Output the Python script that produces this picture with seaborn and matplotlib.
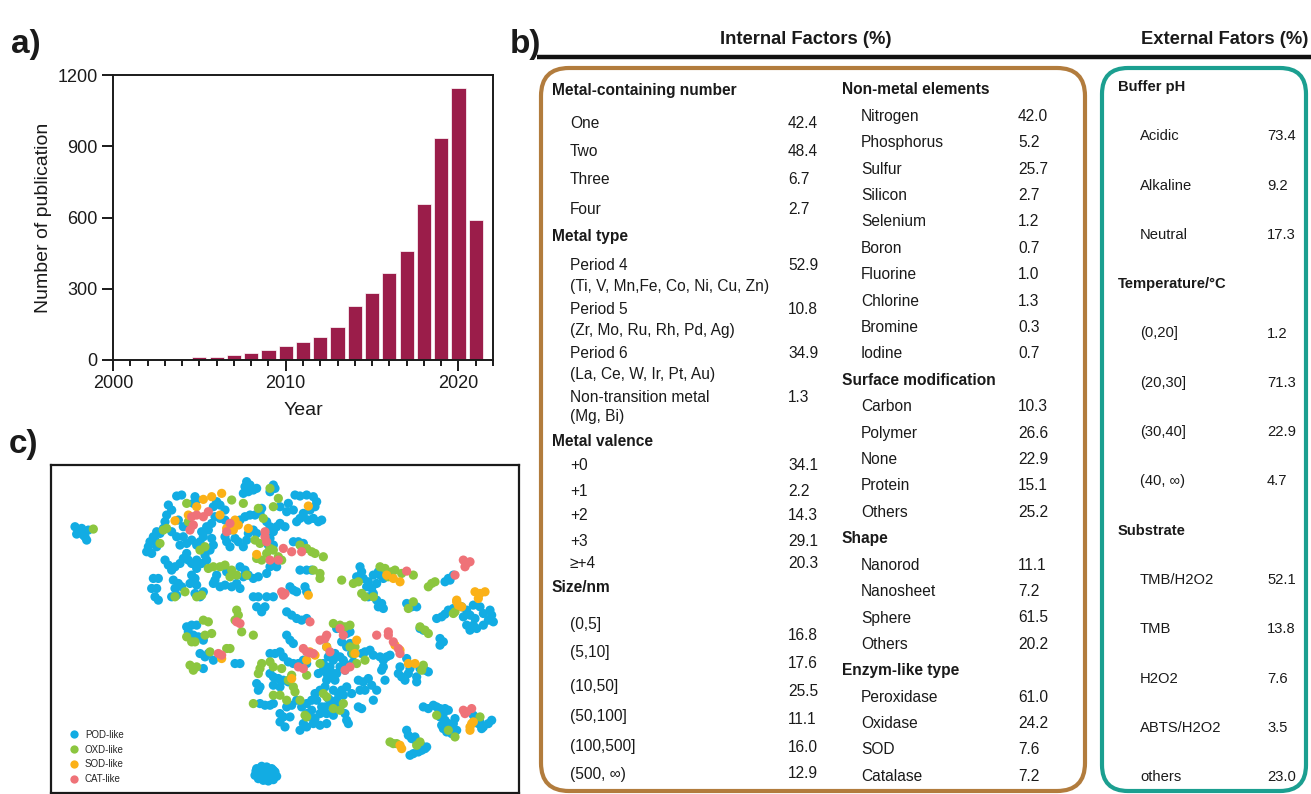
import matplotlib
matplotlib.use("Agg")
import matplotlib.pyplot as plt
import numpy as np
import pandas as pd
import seaborn as sns
from matplotlib.patches import FancyBboxPatch
from matplotlib.ticker import MultipleLocator, FormatStrFormatter

sns.set_style("ticks")
plt.rcParams["font.family"] = ["Liberation Sans", "DejaVu Sans"]

INK = "#1a1a1a"

# ---------------- a) publications per year ----------------
years = list(range(2005, 2022))
publications = [14, 14, 20, 31, 41, 59, 76, 98, 140, 229, 282, 367, 458, 658, 936, 1145, 588]

# ---------------- c) t-SNE embedding of nanozyme activities ----------------
pod_like = [
    (105, 200), (115, 210), (125, 205), (110, 222), (130, 225), (120, 215), (140, 240), (135, 230), (145, 210),
    (620, 65), (630, 75), (615, 80), (640, 90), (625, 95), (650, 85), (610, 100), (700, 75), (705, 85), (690, 95),
    (410, 108), (425, 105), (465, 110), (470, 120), (460, 130), (385, 135), (395, 150), (380, 165), (375, 185),
    (415, 180), (430, 200), (450, 205), (530, 125), (540, 135), (555, 150), (520, 140),
    (765, 105), (780, 108), (800, 105), (820, 110), (830, 125), (825, 140), (810, 150), (790, 160), (760, 150),
    (740, 155), (720, 140), (745, 130),
    (665, 145), (660, 160), (645, 165), (630, 165), (615, 170), (600, 180),
    (540, 175), (555, 180), (525, 170), (515, 190), (505, 210), (490, 230), (480, 245), (470, 255),
    (350, 215), (340, 230), (330, 245), (325, 260), (320, 275), (335, 280), (350, 260), (345, 240), (360, 220), (370, 205),
    (395, 215), (410, 230), (430, 230), (440, 250), (455, 240), (420, 255),
    (485, 215), (500, 200), (515, 235), (520, 255), (510, 270), (495, 285), (500, 300), (485, 310), (470, 325),
    (455, 345), (465, 355), (450, 370), (470, 375), (490, 395), (480, 410), (465, 400),
    (555, 230), (560, 245), (570, 260), (585, 235), (595, 245), (570, 210),
    (640, 210), (650, 220), (625, 220), (620, 240), (610, 260),
    (680, 185), (690, 200), (700, 215), (710, 200), (720, 190), (735, 200), (690, 235), (685, 255), (700, 255),
    (770, 185), (780, 175), (790, 170), (805, 180), (820, 175), (835, 185), (845, 180),
    (760, 245), (775, 245), (790, 250),
    (375, 300), (385, 315), (395, 330), (405, 320), (420, 310), (430, 295), (440, 280), (445, 300),
    (400, 360), (415, 370), (425, 380), (405, 385), (395, 410), (410, 405),
    (340, 355), (355, 355), (335, 385), (350, 385), (345, 410), (355, 420),
    (530, 345), (525, 360), (520, 370), (540, 380), (555, 375), (575, 380), (590, 370), (600, 385),
    (600, 320), (615, 330), (625, 345), (610, 350), (640, 355), (655, 350), (680, 340), (690, 320), (700, 310), (710, 320),
    (560, 335), (575, 340), (455, 310), (470, 300),
    (640, 410), (655, 410), (680, 410), (700, 410), (650, 440), (665, 455), (675, 440), (750, 380), (760, 390),
    (770, 395), (795, 380), (800, 395), (740, 455), (755, 465), (770, 475), (785, 480), (800, 475),
    (780, 330), (800, 330), (815, 330),
    (440, 500), (455, 495), (470, 495), (445, 515), (460, 525), (475, 530), (490, 540), (480, 580), (495, 590),
    (505, 580), (520, 600), (490, 625), (585, 610), (600, 610),
    (960, 320), (965, 335), (950, 350), (970, 355), (985, 365), (980, 380), (995, 385), (1010, 370), (1000, 345),
    (1015, 335), (1020, 345), (1030, 355), (985, 410), (1000, 400), (1010, 420), (1025, 430), (1030, 445), (1015, 440),
    (1100, 430), (1115, 440), (1130, 440), (1140, 505), (1150, 510), (1200, 535), (1210, 545), (1200, 555),
    (1215, 365), (1225, 355), (1240, 345), (1230, 360),
    (1190, 475), (1205, 470), (1215, 462), (1225, 450), (1240, 445), (1265, 440), (1280, 450), (1290, 465),
    (1305, 475), (1300, 495), (1290, 510), (1310, 505), (1330, 495), (1345, 480), (1355, 465), (1360, 485),
    (1350, 450), (1320, 440), (1300, 435), (1330, 460), (1270, 470), (1280, 495),
    (740, 525), (750, 540), (760, 550), (690, 580), (705, 580), (720, 575), (730, 590), (745, 605), (760, 610),
    (775, 610), (790, 600), (800, 610), (690, 640), (700, 650), (715, 655), (730, 660), (745, 665), (720, 680),
    (700, 675), (650, 670), (660, 680), (655, 690),
    (660, 730), (675, 735), (690, 735), (700, 730), (720, 760), (730, 770), (740, 740), (755, 735), (770, 720),
    (785, 740), (800, 730), (815, 720), (825, 700), (840, 690), (855, 680), (860, 660), (870, 650), (885, 660),
    (880, 640), (860, 640), (850, 630), (835, 640),
    (880, 690), (895, 700), (905, 690), (920, 680), (890, 720), (870, 720), (855, 740), (840, 760), (825, 775),
    (810, 770), (790, 790), (800, 800), (780, 810), (750, 770), (735, 800), (720, 785),
    (845, 740), (860, 760), (880, 765), (860, 790), (840, 795), (820, 790), (865, 715), (875, 730), (900, 740),
    (915, 760), (920, 780), (925, 790), (890, 745), (830, 720), (815, 750), (800, 760),
    (885, 580), (900, 590), (910, 600), (900, 620), (915, 630), (925, 615), (940, 605), (935, 580), (920, 560),
    (930, 550), (905, 545), (900, 505), (920, 520), (930, 515), (890, 505),
    (860, 560), (865, 590), (880, 600), (850, 610), (870, 620), (890, 640),
    (965, 580), (975, 575), (990, 570), (1000, 585), (1020, 590), (1030, 600), (1040, 590), (1050, 585),
    (1030, 620), (1025, 630),
    (955, 660), (970, 665), (985, 655), (995, 675), (1010, 690), (960, 690), (975, 690), (1000, 720), (955, 740),
    (965, 745), (910, 705), (935, 700),
    (1075, 640), (1085, 650), (1095, 660), (1105, 640), (1110, 625), (1080, 620), (1140, 625), (1155, 630),
    (1165, 635), (1130, 650), (1130, 665), (1100, 595), (1035, 660),
    (1150, 740), (1165, 745), (1180, 735), (1190, 740), (1200, 745), (1215, 745), (1225, 750), (1210, 760),
    (1200, 770), (1205, 795), (1210, 805), (1220, 815), (1235, 820), (1250, 810), (1240, 790), (1245, 775),
    (1225, 790), (1215, 780), (1235, 805), (1300, 765), (1310, 775), (1320, 785), (1330, 800), (1345, 790),
    (1355, 780), (1325, 805), (1315, 790),
    (1100, 810), (1105, 825), (1115, 835), (1125, 830), (1130, 845), (1140, 850), (1150, 860), (1145, 870),
    (1135, 875), (1120, 880), (1110, 885), (1155, 865), (1160, 860),
    (650, 925), (665, 918), (680, 920), (695, 925), (705, 935), (710, 948), (700, 958), (685, 962), (670, 960),
    (655, 955), (645, 945), (660, 940), (675, 940), (690, 945), (648, 932), (700, 930),
]
oxd_like = [
    (160, 207),
    (440, 130), (575, 120), (610, 130), (655, 145), (690, 85), (715, 115), (700, 140),
    (370, 210), (360, 250), (480, 270), (495, 260),
    (505, 325), (520, 320), (540, 320), (555, 315), (575, 330), (590, 345), (570, 350), (620, 345),
    (650, 295), (665, 300), (680, 280), (690, 265), (700, 270), (715, 290), (725, 300),
    (435, 395), (470, 410), (485, 405), (405, 410),
    (780, 255), (800, 265), (815, 275), (825, 280), (850, 290),
    (820, 330), (840, 340), (840, 355),
    (645, 240), (660, 250), (670, 175), (380, 205), (445, 185),
    (590, 450), (595, 465), (585, 480), (605, 515), (640, 525),
    (490, 480), (505, 485), (515, 520), (495, 525), (440, 530), (455, 545), (465, 545), (510, 575), (570, 565),
    (560, 565), (450, 615), (460, 630), (470, 620),
    (1020, 320), (1035, 325), (1055, 335), (1065, 330), (1085, 340), (1120, 345), (1045, 350), (905, 360),
    (940, 370), (955, 365), (965, 400), (975, 410), (1000, 410), (1120, 425), (1105, 445), (1140, 500),
    (1165, 520), (1165, 380), (1175, 370), (1185, 365), (1240, 460), (1245, 455),
    (690, 605), (665, 610), (660, 625), (655, 640), (700, 620), (725, 625), (755, 645), (745, 660), (760, 680),
    (765, 695), (720, 705), (700, 705), (640, 730), (740, 720), (780, 720), (800, 645), (840, 610), (880, 490),
    (900, 495), (915, 500), (930, 495), (930, 560), (850, 700), (860, 710), (880, 745), (900, 750), (910, 730),
    (800, 770), (795, 765), (950, 610), (975, 600), (1150, 615), (1145, 630), (945, 560), (1155, 510), (940, 580),
    (1190, 765), (1245, 830), (1320, 770), (1225, 810),
    (1050, 845), (1060, 850), (1070, 850), (1130, 855), (1140, 845),
]
sod_like = [
    (490, 118), (515, 110), (545, 100), (405, 182), (445, 165), (470, 140), (585, 180), (595, 195), (580, 210),
    (560, 205), (625, 205), (805, 138), (650, 283), (540, 165),
    (805, 405), (545, 595),
    (1060, 355), (1080, 365), (1040, 345), (1250, 420), (1255, 435), (1265, 440), (1305, 395), (1320, 400),
    (1335, 395), (1315, 415), (1250, 425),
    (800, 600), (825, 585), (810, 575), (950, 540), (945, 580), (1065, 555), (1080, 570), (1105, 610),
    (1125, 610), (755, 655), (860, 560),
    (1290, 800), (1295, 790), (1300, 785), (1290, 810),
    (1080, 855), (1085, 865),
]
cat_like = [
    (455, 170), (470, 165), (490, 170), (505, 155), (460, 195), (450, 210), (560, 215), (570, 190), (675, 215),
    (675, 230), (680, 245), (730, 265), (755, 275), (785, 275), (715, 300), (690, 300), (735, 400), (725, 395),
    (590, 485), (600, 490), (810, 485), (730, 405),
    (535, 580), (545, 585),
    (1270, 300), (1280, 310), (1290, 305), (1275, 320), (1100, 333), (1245, 345),
    (790, 565), (800, 575), (810, 578), (820, 580), (840, 540), (855, 535), (860, 525), (870, 575), (910, 525),
    (1010, 525), (1045, 515), (1045, 525), (1060, 545), (1075, 565), (1080, 580), (775, 620), (790, 625),
    (915, 630), (930, 620), (900, 505),
    (1270, 750), (1280, 755), (1295, 745), (1275, 760),
]
activity_names = ["POD-like", "OXD-like", "SOD-like", "CAT-like"]
activity_colors = ["#12ace3", "#8cc63f", "#fbb117", "#ef7278"]

# ---------------- b) factor statistics (%) ----------------
metal_number_labels = ["One", "Two", "Three", "Four"]
metal_number_values = [42.4, 48.4, 6.7, 2.7]
metal_type_labels = ["Period 4", "Period 5", "Period 6", "Non-transition metal"]
metal_type_members = ["(Ti, V, Mn,Fe, Co, Ni, Cu, Zn)", "(Zr, Mo, Ru, Rh, Pd, Ag)",
                      "(La, Ce, W, Ir, Pt, Au)", "(Mg, Bi)"]
metal_type_values = [52.9, 10.8, 34.9, 1.3]
valence_labels = ["+0", "+1", "+2", "+3", "≥+4"]
valence_values = [34.1, 2.2, 14.3, 29.1, 20.3]
size_labels = ["(0,5]", "(5,10]", "(10,50]", "(50,100]", "(100,500]", "(500, ∞)"]
size_values = [16.8, 17.6, 25.5, 11.1, 16.0, 12.9]

nonmetal_labels = ["Nitrogen", "Phosphorus", "Sulfur", "Silicon", "Selenium", "Boron",
                   "Fluorine", "Chlorine", "Bromine", "Iodine"]
nonmetal_values = [42.0, 5.2, 25.7, 2.7, 1.2, 0.7, 1.0, 1.3, 0.3, 0.7]
surface_labels = ["Carbon", "Polymer", "None", "Protein", "Others"]
surface_values = [10.3, 26.6, 22.9, 15.1, 25.2]
shape_labels = ["Nanorod", "Nanosheet", "Sphere", "Others"]
shape_values = [11.1, 7.2, 61.5, 20.2]
enzyme_labels = ["Peroxidase", "Oxidase", "SOD", "Catalase"]
enzyme_values = [61.0, 24.2, 7.6, 7.2]

ph_labels = ["Acidic", "Alkaline", "Neutral"]
ph_values = [73.4, 9.2, 17.3]
temp_labels = ["(0,20]", "(20,30]", "(30,40]", "(40, ∞)"]
temp_values = [1.2, 71.3, 22.9, 4.7]
substrate_labels = ["TMB/H2O2", "TMB", "H2O2", "ABTS/H2O2", "others"]
substrate_values = [52.1, 13.8, 7.6, 3.5, 23.0]

# ======================= figure =======================
W, H = 1311, 794
fig = plt.figure(figsize=(W / 100, H / 100), dpi=100)

# full-figure canvas in pixel units for the table panel
canvas = fig.add_axes([0, 0, 1, 1])
canvas.set_xlim(0, W)
canvas.set_ylim(H, 0)
canvas.axis("off")


def fig_axes(left, top, right, bottom):
    return fig.add_axes([left / W, 1 - bottom / H, (right - left) / W, (bottom - top) / H])


# ---- panel a ----
ax_a = fig_axes(113, 75, 493, 360)
sns.barplot(x=years, y=publications, native_scale=True, color="#9b1d4a", saturation=1,
            width=0.82, edgecolor="white", linewidth=0.5, errorbar=None, ax=ax_a)
ax_a.set_xlim(2000, 2022)
ax_a.set_ylim(0, 1200)
ax_a.set_yticks([0, 300, 600, 900, 1200])
ax_a.set_xticks([2000, 2010, 2020])
ax_a.xaxis.set_minor_locator(MultipleLocator(1))
ax_a.xaxis.set_major_formatter(FormatStrFormatter("%d"))
ax_a.tick_params(axis="both", which="major", direction="out", length=8, width=1.4,
                 labelsize=13, colors=INK, pad=3)
ax_a.tick_params(axis="x", which="minor", direction="out", length=4.5, width=1.4, color=INK)
for sp in ax_a.spines.values():
    sp.set_visible(True)
    sp.set_linewidth(1.4)
    sp.set_color(INK)
ax_a.set_xlabel("Year", fontsize=14, color=INK, labelpad=7)
ax_a.set_ylabel("Number of publication", fontsize=14, color=INK, labelpad=4)

# ---- panel c ----
ax_c = fig_axes(51, 465, 519, 793)
groups = [pod_like, oxd_like, sod_like, cat_like]
emb = pd.DataFrame({
    "dim1": [p[0] for g in groups for p in g],
    "dim2": [p[1] for g in groups for p in g],
    "activity": [name for name, g in zip(activity_names, groups) for _ in g],
})
sns.scatterplot(data=emb, x="dim1", y="dim2", hue="activity", hue_order=activity_names,
                palette=activity_colors, s=44, linewidth=0, ax=ax_c)
ax_c.set_xlim(33, 1437)
ax_c.set_ylim(998, 15)
ax_c.set_xticks([])
ax_c.set_yticks([])
ax_c.set_xlabel("")
ax_c.set_ylabel("")
for sp in ax_c.spines.values():
    sp.set_visible(True)
    sp.set_linewidth(1.6)
    sp.set_color(INK)
ax_c.legend(loc="lower left", bbox_to_anchor=(0.01, 0.0), frameon=False, fontsize=7,
            handletextpad=0.1, labelspacing=0.5, borderpad=0.4, markerscale=0.9)

# ---- panel labels ----
for txt, x, y in [("a)", 11, 45), ("b)", 510, 44), ("c)", 9, 444)]:
    canvas.text(x, y, txt, fontsize=24, fontweight="bold", color=INK, ha="left", va="center")

# ---- panel b ----
BROWN = "#b27c3d"
TEAL = "#1b9f90"
canvas.plot([537, W], [57, 57], color="#111111", lw=3.2, solid_capstyle="butt")
canvas.text(806, 40, "Internal Factors (%)", fontsize=13.2, fontweight="bold", color=INK,
            ha="center", va="center")
canvas.text(1141, 40, "External Fators (%)", fontsize=13.2, fontweight="bold", color=INK,
            ha="left", va="center")
canvas.add_patch(FancyBboxPatch((541, 68), 544, 723, boxstyle="round,pad=0,rounding_size=28",
                                fill=False, ec=BROWN, lw=3.0))
canvas.add_patch(FancyBboxPatch((1102, 68), 204, 723, boxstyle="round,pad=0,rounding_size=26",
                                fill=False, ec=TEAL, lw=3.0))

FS = 11.2


def head(x, y, s, fs=FS):
    canvas.text(x, y, s, fontsize=fs, fontweight="bold", color=INK, ha="left", va="center")


def item(x, y, s, fs=FS):
    canvas.text(x, y, s, fontsize=fs, color=INK, ha="left", va="center")


# left column of internal factors
hx, ix, vx = 552, 570, 788
head(hx, 91, "Metal-containing number")
for lab, val, y in zip(metal_number_labels, metal_number_values, [123, 151, 180, 209]):
    item(ix, y, lab)
    item(vx, y, f"{val:.1f}")
head(hx, 236, "Metal type")
for lab, sub, val, y in zip(metal_type_labels, metal_type_members, metal_type_values, [266, 310, 354, 397]):
    item(ix, y, lab)
    item(ix, y + 20, sub)
    item(vx, y, f"{val:.1f}")
head(hx, 441, "Metal valence")
for lab, val, y in zip(valence_labels, valence_values, [466, 492, 516, 541, 564]):
    item(ix, y, lab)
    item(vx, y, f"{val:.1f}")
head(hx, 588, "Size/nm")
for lab, val, y, vy in zip(size_labels, size_values, [624, 652, 687, 717, 746, 774],
                           [635, 664, 691, 719, 748, 774]):
    item(ix, y, lab)
    item(vx, vy, f"{val:.1f}")

# middle column of internal factors
hx, ix, vx = 842, 861, 1018
middle = [("Non-metal elements", nonmetal_labels, nonmetal_values),
          ("Surface modification", surface_labels, surface_values),
          ("Shape", shape_labels, shape_values),
          ("Enzym-like type", enzyme_labels, enzyme_values)]
line = 0
for title, labs, vals in middle:
    head(hx, 90 + 26.4 * line, title)
    line += 1
    for lab, val in zip(labs, vals):
        y = 90 + 26.4 * line
        item(ix, y, lab)
        item(vx, y, f"{val:.1f}")
        line += 1

# external factors
hx, ix, vx = 1118, 1140, 1267
right = [("Buffer pH", ph_labels, ph_values),
         ("Temperature/°C", temp_labels, temp_values),
         ("Substrate", substrate_labels, substrate_values)]
line = 0
for title, labs, vals in right:
    head(hx, 87 + 49.3 * line, title, fs=10.6)
    line += 1
    for lab, val in zip(labs, vals):
        y = 87 + 49.3 * line
        item(ix, y, lab, fs=10.6)
        item(vx, y, f"{val:.1f}", fs=10.6)
        line += 1

fig.savefig("out.png", dpi=100)
